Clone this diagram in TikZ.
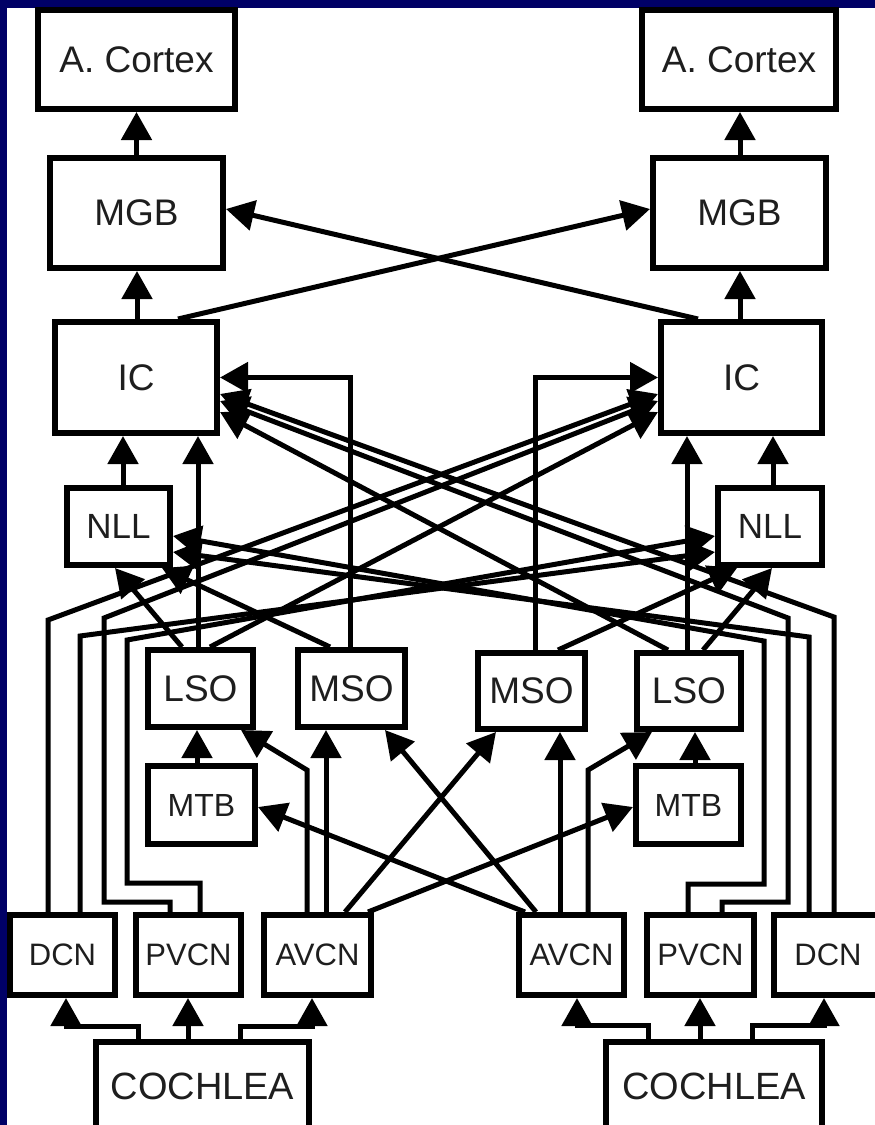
\documentclass[tikz,border=0pt]{standalone}
\usepackage{fontspec}
\setmainfont{Liberation Sans}
\usetikzlibrary{arrows.meta}
\definecolor{navy}{RGB}{0,0,102}
\definecolor{ink}{RGB}{30,30,30}
\begin{document}
\begin{tikzpicture}[x=1pt,y=-1pt,
  bx/.style n args={3}{draw=black, line width=6pt, inner sep=0pt,
     minimum width=#1pt, minimum height=#2pt, text=ink,
     font=\fontsize{#3pt}{#3pt}\selectfont},
  conn/.style={line width=5pt, -{Triangle[width=30pt,length=28pt]}}]
\useasboundingbox (0,0) rectangle (875,1125);
\fill[navy] (0,0) rectangle (875,1125);
\fill[white] (6.5,7.5) rectangle (875,1125);
\begin{scope}
\clip (6.5,7.5) rectangle (875,1125);
% boxes
\node[bx={197}{99}{37}] (LACortex) at (136.5,59.5) {A. Cortex};
\node[bx={194}{99}{37}] (RACortex) at (739,59.5) {A. Cortex};
\node[bx={173}{110}{37}] (LMGB) at (136.5,213) {MGB};
\node[bx={173}{110}{37}] (RMGB) at (739.5,213) {MGB};
\node[bx={162}{111}{37}] (LIC) at (136,377.5) {IC};
\node[bx={161}{111}{37}] (RIC) at (741.5,377.5) {IC};
\node[bx={103}{77}{35}] (LNLL) at (118.5,526.5) {NLL};
\node[bx={104}{77}{35}] (RNLL) at (770,526.5) {NLL};
\node[bx={105}{77}{37}] (LLSO) at (200.5,688.5) {LSO};
\node[bx={107}{77}{37}] (LMSO) at (351.5,688.5) {MSO};
\node[bx={107}{76}{37}] (RMSO) at (531.5,691) {MSO};
\node[bx={104}{76}{37}] (RLSO) at (689,691) {LSO};
\node[bx={107}{78}{32}] (LMTB) at (201.5,805) {MTB};
\node[bx={105}{78}{32}] (RMTB) at (688.5,805) {MTB};
\node[bx={105}{80}{31}] (LDCN) at (62.5,955) {DCN};
\node[bx={105}{80}{31}] (LPVCN) at (188.5,955) {PVCN};
\node[bx={107}{80}{31}] (LAVCN) at (317.5,955) {AVCN};
\node[bx={105}{80}{31}] (RAVCN) at (571.5,955) {AVCN};
\node[bx={107}{80}{31}] (RPVCN) at (700.5,955) {PVCN};
\node[bx={108}{80}{31}] (RDCN) at (828,955) {DCN};
\node[bx={213}{88}{38}] (LCOCH) at (202.5,1086) {COCHLEA};
\node[bx={216}{88}{38}] (RCOCH) at (714,1086) {COCHLEA};
% upper levels
\draw[conn] (LMGB.north) -- (LMGB.north |- LACortex.south);
\draw[conn] (RMGB.north -| 740,0) -- (RACortex.south -| 740,0);
\draw[conn] (LIC.north -| 137,0) -- (LMGB.south -| 137,0);
\draw[conn] (RIC.north -| 740,0) -- (RMGB.south -| 740,0);
\draw[conn] (LIC.north -| 178,0) -- (RMGB.west |- 0,209);
\draw[conn] (RIC.north -| 698,0) -- (LMGB.east |- 0,209);
% into IC from below
\draw[conn] (LNLL.north -| 123,0) -- (LIC.south -| 123,0);
\draw[conn] (RNLL.north -| 773,0) -- (RIC.south -| 773,0);
\draw[conn] (LLSO.north -| 198,0) -- (LIC.south -| 198,0);
\draw[conn] (RLSO.north -| 687,0) -- (RIC.south -| 687,0);
\draw[conn] (LMSO.north -| 350,0) |- (LIC.east);
\draw[conn] (RMSO.north -| 535,0) |- (RIC.west);
% SOC to NLL
\draw[conn] (LLSO.north -| 182,0) -- (LNLL.south -| 115,0);
\draw[conn] (LMSO.north -| 330,0) -- (LNLL.south -| 162,0);
\draw[conn] (RLSO.north -| 703,0) -- (RNLL.south -| 772,0);
\draw[conn] (RMSO.north -| 558,0) -- (RNLL.south -| 737,0);
% LSO to contralateral IC
\draw[conn] (LLSO.north -| 210,0) -- (RIC.west |- 0,412);
\draw[conn] (RLSO.north -| 668,0) -- (LIC.east |- 0,412);
% DCN / PVCN long lines
\draw[conn] (LDCN.north -| 48,0) -- (48,620) -- (RIC.west |- 0,394);
\draw[conn] (LPVCN.north -| 170,0) -- (170,902) -- (104,902) -- (104,618) -- (RIC.west |- 0,401);
\draw[conn] (LDCN.north -| 80,0) -- (80,636) -- (RNLL.west |- 0,552);
\draw[conn] (LPVCN.north -| 200,0) -- (200,883) -- (127,883) -- (127,640) -- (RNLL.west |- 0,536);
\draw[conn] (RDCN.north -| 834,0) -- (834,617) -- (LIC.east |- 0,394);
\draw[conn] (RPVCN.north -| 722,0) -- (722,902) -- (788,902) -- (788,618) -- (LIC.east |- 0,401);
\draw[conn] (RDCN.north -| 809,0) -- (809,637) -- (LNLL.east |- 0,552);
\draw[conn] (RPVCN.north -| 688,0) -- (688,884) -- (764,884) -- (764,641) -- (LNLL.east |- 0,536);
% AVCN projections
\draw[conn] (LAVCN.north -| 307,0) -- (307,770) -- (LLSO.south -| 241,0);
\draw[conn] (LAVCN.north -| 326,0) -- (LMSO.south -| 326,0);
\draw[conn] (LAVCN.north -| 345,0) -- (RMSO.south -| 496,0);
\draw[conn] (LAVCN.north -| 368,0) -- (RMTB.west |- 0,807);
\draw[conn] (RAVCN.north -| 525,0) -- (LMTB.east |- 0,807);
\draw[conn] (RAVCN.north -| 536,0) -- (LMSO.south -| 385,0);
\draw[conn] (RAVCN.north -| 560,0) -- (RMSO.south -| 560,0);
\draw[conn] (RAVCN.north -| 588,0) -- (588,770) -- (RLSO.south -| 652,0);
% MTB to LSO
\draw[conn] (LMTB.north -| 197,0) -- (LLSO.south -| 197,0);
\draw[conn] (RMTB.north -| 695,0) -- (RLSO.south -| 695,0);
% cochlea
\draw[conn] (LCOCH.north -| 138,0) -- (138,1026) -- (66,1026) -- (LDCN.south -| 66,0);
\draw[conn] (LCOCH.north -| 188,0) -- (LPVCN.south -| 188,0);
\draw[conn] (LCOCH.north -| 240,0) -- (240,1026) -- (312,1026) -- (LAVCN.south -| 312,0);
\draw[conn] (RCOCH.north -| 648,0) -- (648,1025) -- (577,1025) -- (RAVCN.south -| 577,0);
\draw[conn] (RCOCH.north -| 700,0) -- (RPVCN.south -| 700,0);
\draw[conn] (RCOCH.north -| 752,0) -- (752,1025) -- (824,1025) -- (RDCN.south -| 824,0);
\end{scope}
\end{tikzpicture}
\end{document}
